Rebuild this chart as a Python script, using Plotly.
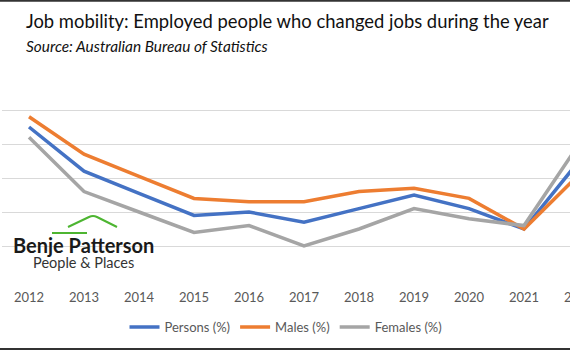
import plotly.graph_objects as go

years = [2012, 2013, 2014, 2015, 2016, 2017, 2018, 2019, 2020, 2021, 2022]
persons = [10.5, 9.2, 8.55, 7.9, 8.0, 7.7, 8.1, 8.5, 8.1, 7.5, 9.5]
males = [10.8, 9.7, 9.05, 8.4, 8.3, 8.3, 8.6, 8.7, 8.4, 7.5, 9.1]
females = [10.2, 8.6, 8.0, 7.4, 7.6, 7.0, 7.5, 8.1, 7.8, 7.6, 10.0]

series_names = ["Persons (%)", "Males (%)", "Females (%)"]
colors = ["#4472C4", "#ED7D31", "#A5A5A5"]

W, H = 570, 350
L, R, T, B = 2, 0, 76, 70
FONT = "Lato"

x0, x1 = 2011.509, 2021.836


def px(x):
    return (x - L) / (W - L - R)


def py(y):
    return (H - B - y) / (H - T - B)


fig = go.Figure()
for name, vals, c in zip(series_names, [persons, males, females], colors):
    fig.add_trace(go.Scatter(x=years, y=vals, mode="lines", name=name,
                             line=dict(color=c, width=3.5)))

annotations = [
    dict(text="Job mobility: Employed people who changed jobs during the year",
         x=px(24), y=py(21), xref="paper", yref="paper", xanchor="left", yanchor="middle",
         showarrow=False, font=dict(family=FONT, size=18.4, color="#111111")),
    dict(text="<i>Source: Australian Bureau of Statistics</i>",
         x=px(24), y=py(46), xref="paper", yref="paper", xanchor="left", yanchor="middle",
         showarrow=False, font=dict(family=FONT, size=15.4, color="#111111")),
    dict(text="<b><span style='font-size:20px;color:#1a1a1a'>Benje Patterson</span></b><br>"
              "<span style='font-size:14.5px'>People &amp; Places</span>",
         x=px(83), y=py(252), xref="paper", yref="paper", xanchor="center", yanchor="middle",
         align="center", borderpad=0,
         showarrow=False, font=dict(family=FONT, size=11.5, color="#333333")),
    # cut-off final category label at the right edge
    dict(text=str(years[-1]),
         x=(years[-1] - x0) / (x1 - x0), y=py(297), xref="paper", yref="paper",
         xanchor="center", yanchor="middle",
         showarrow=False, font=dict(family=FONT, size=13, color="#595959")),
]

green = "#4DB531"
shapes = [
    dict(type="line", xref="paper", yref="paper", x0=px(52), x1=px(87), y0=py(233), y1=py(233),
         line=dict(color=green, width=2)),
    dict(type="path", xref="paper", yref="paper",
         path=f"M {px(68)},{py(227)} L {px(89)},{py(217)} Q {px(93)},{py(215)} {px(97)},{py(217)} L {px(117)},{py(227)}",
         line=dict(color=green, width=2)),
    dict(type="line", xref="paper", yref="paper", x0=px(0), x1=1, y0=py(0.8), y1=py(0.8),
         line=dict(color="#333333", width=2)),
    dict(type="line", xref="paper", yref="paper", x0=px(0), x1=1, y0=py(349), y1=py(349),
         line=dict(color="#333333", width=2)),
]

fig.update_layout(
    width=W, height=H,
    margin=dict(l=L, r=R, t=T, b=B, pad=0),
    paper_bgcolor="white", plot_bgcolor="white",
    font=dict(family=FONT, size=13, color="#595959"),
    showlegend=True,
    legend=dict(orientation="h", x=0.5, xanchor="center", y=py(327), yanchor="middle",
                font=dict(family=FONT, size=13, color="#595959"), itemwidth=30,
                tracegroupgap=0, bgcolor="rgba(0,0,0,0)"),
    annotations=annotations,
    shapes=shapes,
)
fig.update_xaxes(range=[x0, x1], tickmode="array", tickvals=years,
                 ticktext=[str(y) for y in years], showgrid=False, zeroline=False,
                 showline=False, ticks="outside", ticklen=5, tickcolor="rgba(0,0,0,0)",
                 tickfont=dict(family=FONT, size=13, color="#595959"))
fig.update_yaxes(range=[6, 12], dtick=1, showgrid=True, gridcolor="#D9D9D9", gridwidth=1,
                 zeroline=False, showticklabels=False, showline=False)

fig.write_html("out.html")
